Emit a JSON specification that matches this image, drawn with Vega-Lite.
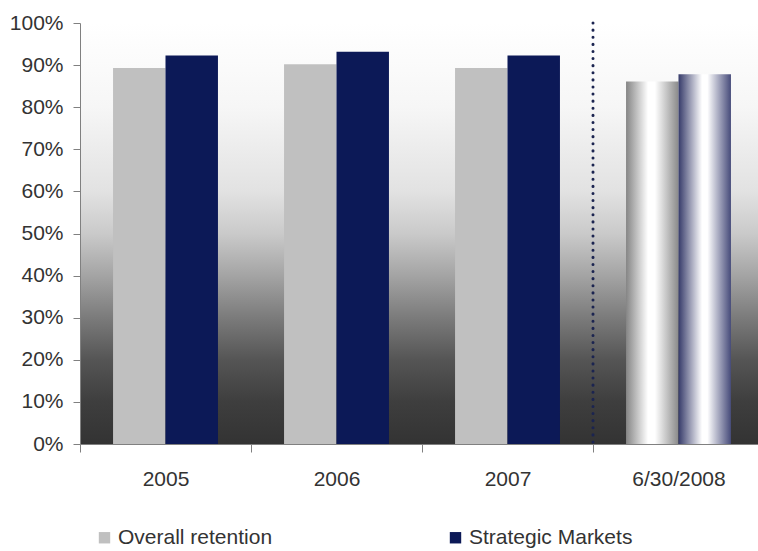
{
  "$schema": "https://vega.github.io/schema/vega-lite/v6.json",
  "width": 684,
  "height": 421,
  "autosize": {"type": "none"},
  "padding": {"left": 80, "top": 23, "right": 0, "bottom": 107},
  "background": "white",
  "view": {
    "fill": {
      "gradient": "linear", "x1": 0, "y1": 0, "x2": 0, "y2": 1,
      "stops": [
        {"offset": 0, "color": "#ffffff"},
        {"offset": 0.2, "color": "#f6f6f6"},
        {"offset": 0.4, "color": "#e2e2e2"},
        {"offset": 0.5, "color": "#cacaca"},
        {"offset": 0.6, "color": "#a4a4a4"},
        {"offset": 0.7, "color": "#7b7b7b"},
        {"offset": 0.8, "color": "#555555"},
        {"offset": 0.9, "color": "#3e3e3e"},
        {"offset": 1, "color": "#333333"}
      ]
    },
    "stroke": null
  },
  "config": {
    "font": "Liberation Sans",
    "axis": {"grid": false, "title": null, "labelFontSize": 21, "labelColor": "#333333", "domainColor": "#808080", "tickColor": "#808080", "labelFont": "Liberation Sans"},
    "legend": {"labelFont": "Liberation Sans"}
  },
  "datasets": {
    "rows": [
      {"period": "2005", "series": "Overall retention", "value": 0.893},
      {"period": "2005", "series": "Strategic Markets", "value": 0.923},
      {"period": "2006", "series": "Overall retention", "value": 0.902},
      {"period": "2006", "series": "Strategic Markets", "value": 0.932},
      {"period": "2007", "series": "Overall retention", "value": 0.893},
      {"period": "2007", "series": "Strategic Markets", "value": 0.923},
      {"period": "6/30/2008", "series": "Overall retention", "value": 0.861},
      {"period": "6/30/2008", "series": "Strategic Markets", "value": 0.878}
    ]
  },
  "layer": [
    {
      "data": {"name": "rows"},
      "transform": [{"filter": "datum.period != '6/30/2008'"}],
      "mark": {"type": "bar"},
      "encoding": {
        "x": {"field": "period", "type": "nominal", "sort": ["2005", "2006", "2007", "6/30/2008"],
              "scale": {"domain": ["2005", "2006", "2007", "6/30/2008"], "paddingInner": 0, "paddingOuter": 0},
              "axis": {"labelAngle": 0, "tickBand": "extent", "tickSize": 8, "labelPadding": 16}},
        "xOffset": {"field": "series", "type": "nominal", "scale": {"domain": ["Overall retention", "Strategic Markets"], "paddingInner": 0, "paddingOuter": 0.63}},
        "y": {"field": "value", "type": "quantitative", "scale": {"domain": [0, 1]},
              "axis": {"format": ".0%", "values": [0, 0.1, 0.2, 0.3, 0.4, 0.5, 0.6, 0.7, 0.8, 0.9, 1], "tickSize": 7, "labelPadding": 10}},
        "color": {"field": "series", "type": "nominal",
                  "scale": {"domain": ["Overall retention", "Strategic Markets"], "range": ["#c0c0c0", "#0c1957"]},
                  "legend": {"title": null, "orient": "none", "legendX": 14, "legendY": 504, "direction": "horizontal", "columns": 2, "columnPadding": 172,
                             "symbolType": "square", "symbolSize": 130, "symbolStrokeWidth": 0, "labelFontSize": 21, "labelColor": "#333333", "labelOffset": 3, "labelLimit": 400}}
      }
    },
    {
      "data": {"name": "rows"},
      "transform": [{"filter": "datum.period == '6/30/2008' && datum.series == 'Overall retention'"}],
      "mark": {"type": "bar", "color": {
        "gradient": "linear", "x1": 0, "y1": 0, "x2": 1, "y2": 0,
        "stops": [
          {"offset": 0, "color": "#858585"},
          {"offset": 0.42, "color": "#ffffff"},
          {"offset": 0.55, "color": "#ffffff"},
          {"offset": 1, "color": "#8a8a8a"}
        ]}},
      "encoding": {
        "x": {"field": "period", "type": "nominal"},
        "xOffset": {"field": "series", "type": "nominal"},
        "y": {"field": "value", "type": "quantitative"}
      }
    },
    {
      "data": {"name": "rows"},
      "transform": [{"filter": "datum.period == '6/30/2008' && datum.series == 'Strategic Markets'"}],
      "mark": {"type": "bar", "color": {
        "gradient": "linear", "x1": 0, "y1": 0, "x2": 1, "y2": 0,
        "stops": [
          {"offset": 0, "color": "#363b6a"},
          {"offset": 0.45, "color": "#ffffff"},
          {"offset": 0.55, "color": "#ffffff"},
          {"offset": 1, "color": "#464b7a"}
        ]}},
      "encoding": {
        "x": {"field": "period", "type": "nominal"},
        "xOffset": {"field": "series", "type": "nominal"},
        "y": {"field": "value", "type": "quantitative"}
      }
    },
    {
      "data": {"name": "rows"},
      "transform": [{"filter": "datum.period == '6/30/2008' && datum.series == 'Overall retention'"}],
      "mark": {"type": "rule", "color": "#1b2450", "strokeWidth": 3, "strokeDash": [0.1, 7], "strokeCap": "round"},
      "encoding": {
        "x": {"field": "period", "type": "nominal", "bandPosition": 0}
      }
    }
  ]
}
